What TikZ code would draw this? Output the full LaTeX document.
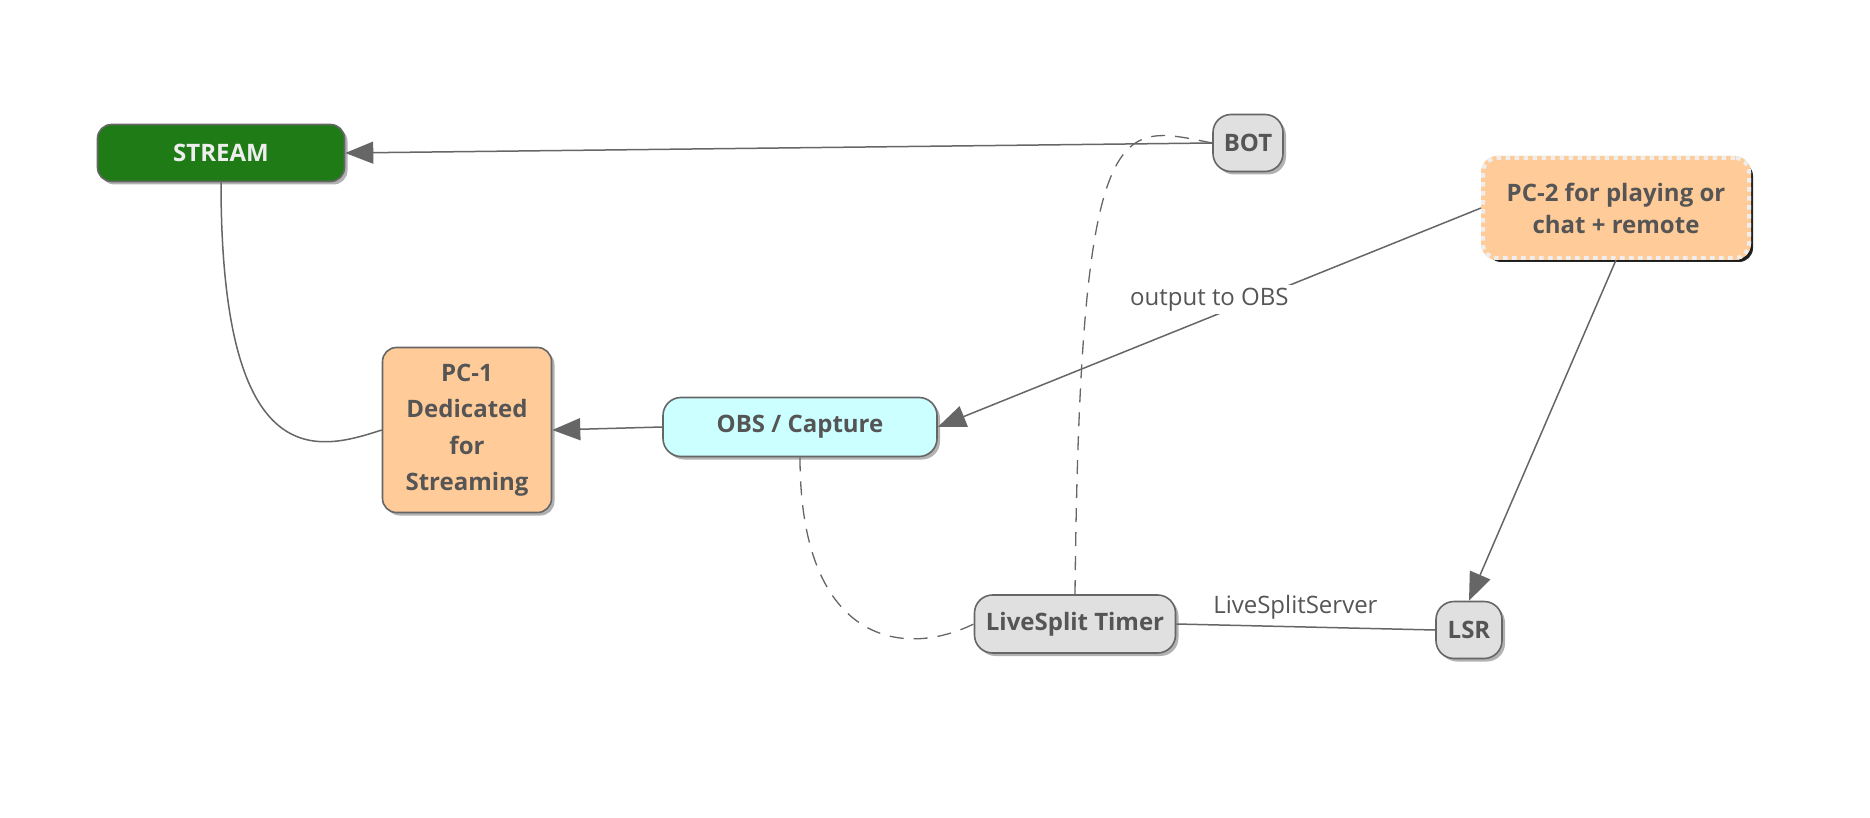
\documentclass[tikz,border=0pt]{standalone}
\usepackage{fontspec}
\setmainfont{Open Sans}
\usetikzlibrary{arrows.meta,shadows}
\definecolor{edgec}{HTML}{666666}
\definecolor{textc}{HTML}{555555}
\definecolor{streamg}{HTML}{1E7B16}
\definecolor{grayf}{HTML}{E0E0E0}
\definecolor{orangef}{HTML}{FFCC99}
\definecolor{cyanf}{HTML}{CCFFFF}
\definecolor{dashg}{HTML}{EEEEEE}
\tikzset{
  box/.style={draw=edgec, line width=1.6pt, rounded corners=14pt, text=textc,
    font=\bfseries\fontsize{24}{32}\selectfont, align=center, inner sep=0pt,
    drop shadow={shadow xshift=3pt, shadow yshift=-3pt, opacity=0.3, fill=black}},
  conn/.style={draw=edgec, line width=1.5pt},
  arr/.style={conn, -{Triangle[length=28pt,width=22pt]}},
  dconn/.style={draw=edgec, line width=1.3pt, dash pattern=on 14pt off 10pt},
  elabel/.style={font=\fontsize{24}{28}\selectfont, text=textc, fill=white, inner sep=3pt}
}
\begin{document}
\begin{tikzpicture}[x=1pt,y=-1pt]
\useasboundingbox[fill=white] (0,0) rectangle (1870,818);

\node[box, fill=streamg, text=dashg, minimum width=247pt, minimum height=57pt] (stream) at (221,153) {STREAM};
\node[box, fill=grayf, rounded corners=18pt, minimum width=70pt, minimum height=57pt] (bot) at (1248,143) {BOT};
\node[box, fill=orangef, draw=orangef, line width=4pt,
      postaction={draw=dashg, line width=4pt, dash pattern=on 4.5pt off 4.5pt},
      drop shadow={shadow xshift=4pt, shadow yshift=-4pt, opacity=0.85, fill=black},
      minimum width=266pt, minimum height=100pt] (pc2) at (1616,208) {PC-2 for playing or\\chat + remote};
\node[box, fill=orangef, minimum width=169pt, minimum height=165pt, font=\bfseries\fontsize{24}{36.5}\selectfont] (pc1) at (467,430) {PC-1\\Dedicated\\for\\Streaming};
\node[box, fill=cyanf, rounded corners=18pt, minimum width=274pt, minimum height=59pt] (obs) at (800,427) {OBS / Capture};
\node[box, fill=grayf, rounded corners=18pt, minimum width=201pt, minimum height=58pt] (timer) at (1075,624) {LiveSplit Timer};
\node[box, fill=grayf, rounded corners=18pt, minimum width=66pt, minimum height=57pt] (lsr) at (1469,630) {LSR};

% connectors
\draw[arr] (bot.west) -- (stream.east);
\draw[conn] (stream.south) .. controls (221,480) and (320,450) .. (pc1.west);
\draw[arr] (obs.west) -- (pc1.east);
\draw[arr] (pc2.west) -- node[elabel, pos=0.5, yshift=18pt] (lbl1) {output to OBS} (obs.east);
\draw[arr] (pc2.south) -- (lsr.north);
\draw[conn] (timer.east) -- node[elabel, fill=none, pos=0.46, yshift=19pt] (lbl2) {LiveSplitServer} (lsr.west);
\draw[dconn] (obs.south) .. controls (800,640) and (900,660) .. (timer.west);
\draw[dconn] (timer.north) .. controls (1080,100) and (1120,125) .. (bot.west);
\end{tikzpicture}
\end{document}
